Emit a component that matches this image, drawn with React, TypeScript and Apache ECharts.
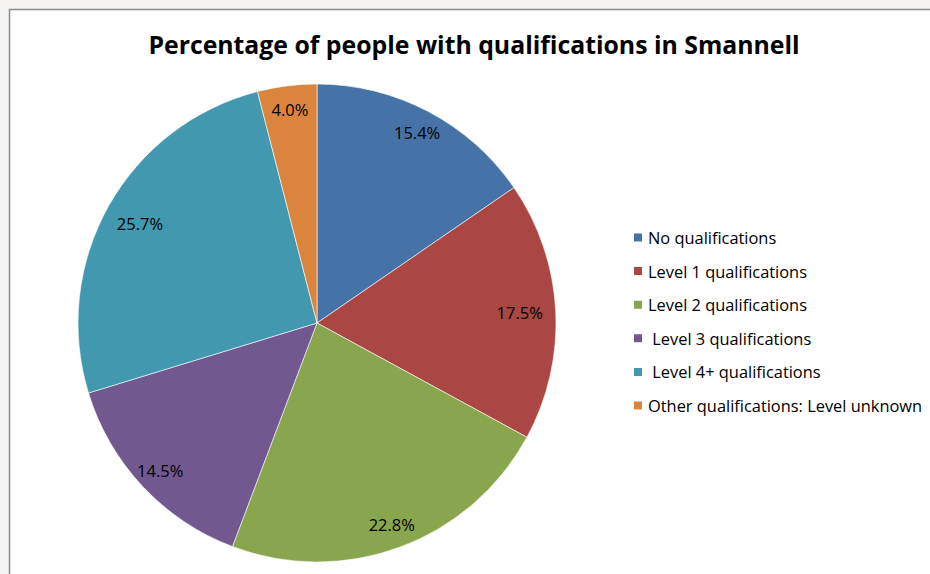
import React, { useEffect, useRef } from "react";
import * as echarts from "echarts";

const categories = [
  "No qualifications",
  "Level 1 qualifications",
  "Level 2 qualifications",
  " Level 3 qualifications",
  " Level 4+ qualifications",
  "Other qualifications: Level unknown",
];
const values = [15.4, 17.5, 22.8, 14.5, 25.7, 4.0];
const colors = ["#4572A7", "#AA4643", "#89A54E", "#71588F", "#4198AF", "#DB843D"];
const titleText = "Percentage of people with qualifications in Smannell";
// which labels sit closer to the centre (Excel best-fit placement)
const innerLabel = [false, true, false, false, true, false];

export default function App() {
  const ref = useRef<HTMLDivElement>(null);
  useEffect(() => {
    if (!ref.current) return;
    const chart = echarts.init(ref.current, undefined, { renderer: "svg" });
    const font = "'Open Sans', sans-serif";
    const labelStyle = {
      position: "inside",
      formatter: (p: any) => p.value.toFixed(1) + "%",
      fontFamily: font,
      fontSize: 16.5,
      color: "#000",
    };
    const labelSeries = (inner: boolean, r0: number) => ({
      type: "pie",
      center: [317, 323],
      radius: [r0, 239],
      startAngle: 90,
      clockwise: true,
      data: categories.map((name, i) => ({
        name,
        value: values[i],
        itemStyle: { color: "rgba(0,0,0,0)", borderWidth: 0 },
        label: { show: innerLabel[i] === inner },
      })),
      label: { show: true, ...labelStyle },
      labelLine: { show: false },
      emphasis: { disabled: true },
      silent: true,
    });
    chart.setOption({
      animation: false,
      backgroundColor: "#f5f4f2",
      graphic: [
        {
          type: "rect",
          z: -10,
          shape: { x: 9.5, y: 9.5, width: 940, height: 600 },
          style: { fill: "#ffffff", stroke: "#8a8a8a", lineWidth: 1.5 },
          silent: true,
        },
      ],
      title: {
        text: titleText,
        left: 469,
        top: 26,
        textAlign: "center",
        textStyle: { fontFamily: font, fontSize: 24.8, fontWeight: "bold", color: "#000" },
      },
      legend: {
        orient: "vertical",
        left: 632,
        top: 229.5,
        padding: 0,
        itemWidth: 10,
        itemHeight: 10,
        itemGap: 17.6,
        icon: "rect",
        selectedMode: false,
        data: categories,
        textStyle: { fontFamily: font, fontSize: 16.4, color: "#000" },
      },
      series: [
        {
          type: "pie",
          center: [317, 323],
          radius: [0, 239],
          startAngle: 90,
          clockwise: true,
          data: categories.map((name, i) => ({
            name,
            value: values[i],
            itemStyle: { color: colors[i] },
          })),
          label: { show: false },
          labelLine: { show: false },
          itemStyle: { borderColor: "#ffffff", borderWidth: 0.6 },
          emphasis: { disabled: true },
          silent: true,
        },
        labelSeries(false, 185),
        labelSeries(true, 161),
      ],
    });
    return () => chart.dispose();
  }, []);
  return (
    <div
      ref={ref}
      style={{ position: "fixed", left: 0, top: 0, width: 930, height: 574 }}
    />
  );
}
